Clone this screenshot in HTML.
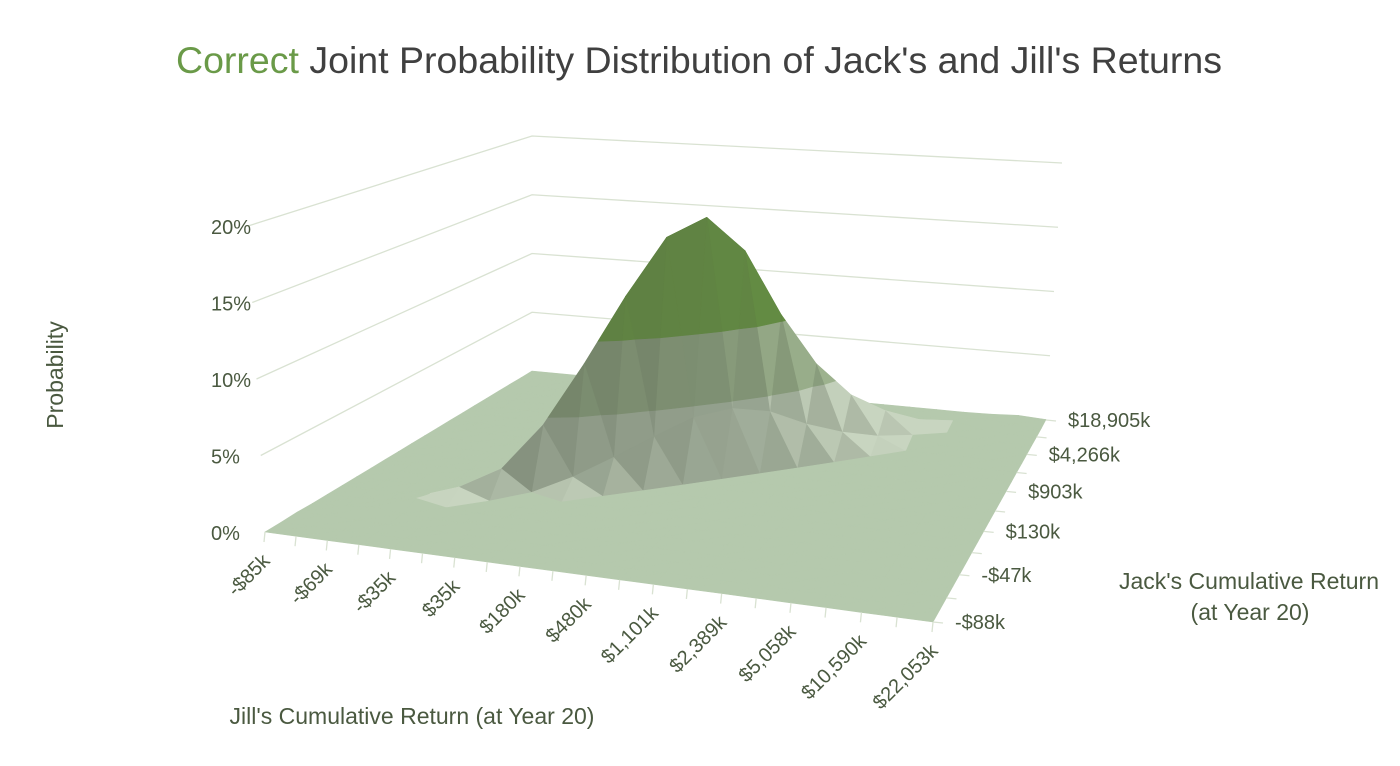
<!DOCTYPE html>
<html><head><meta charset="utf-8"><style>
html,body{margin:0;padding:0;background:#fff;}
svg{display:block;font-family:"Liberation Sans",sans-serif;}
.t{fill:#4a5940;font-size:20px;}
.at{fill:#4a5940;font-size:23px;}
</style></head><body>
<svg id="chart" width="1400" height="766" viewBox="0 0 1400 766">
<text x="699" y="73" text-anchor="middle" font-size="37.5" fill="#404040"><tspan fill="#6a9a48">Correct</tspan> Joint Probability Distribution of Jack's and Jill's Returns</text>
<g id="walls"></g>
<g id="surf"></g>
<g id="axes"></g>
<text class="at" x="0" y="0" transform="translate(63,375) rotate(-90)" text-anchor="middle">Probability</text>
<text class="at" x="1249" y="589" text-anchor="middle">Jack's Cumulative Return</text>
<text class="at" x="1250" y="620" text-anchor="middle">(at Year 20)</text>
<text class="at" x="412" y="724" text-anchor="middle">Jill's Cumulative Return (at Year 20)</text>
</svg>
<script>
const jillLabels=["-$85k","-$69k","-$35k","$35k","$180k","$480k","$1,101k","$2,389k","$5,058k","$10,590k","$22,053k"];
const jackLabels=["-$88k","-$47k","$130k","$903k","$4,266k","$18,905k"];
const zTicks=[0,5,10,15,20];
// probability (%) on the diagonal cell of each Jack row (row j -> Jill column j-1)
const ridgePeak=[0,0,0.1,0.3,0.5,0.9,1.8,4.5,8.5,13,17,18.2,15.5,10.5,6.5,3.8,2.2,1.1,0.6,0.3,0.15];
// probability (%) in the two neighbouring Jill columns of each Jack row
const ridgeSide=[0,0,0.03,0.08,0.12,0.2,0.4,1.1,2.1,3.2,4.2,4.5,3.9,2.6,1.6,0.9,0.55,0.3,0.15,0.08,0.04];
const NX=21, NY=ridgePeak.length;
const grid=[];
for(let j=0;j<NY;j++){
  const row=new Array(NX).fill(0);
  if(j-1>=0&&j-1<NX)row[j-1]=ridgePeak[j];
  if(j-2>=0&&j-2<NX)row[j-2]=ridgeSide[j];
  if(j<NX)row[j]=ridgeSide[j];
  grid.push(row);
}

const NS="http://www.w3.org/2000/svg";
function gv(v){const r=1.22;return v*r/(1+(r-1)*v);}
function gu(u){const r=1.08;return u/(r-(r-1)*u);}
function bil(a,b,c,d,u,v){return (a*(1-u)+b*u)*(1-v)+(c*(1-u)+d*u)*v;}
function proj(u,v,z){
  const U=gu(u),V=gv(v);
  const fx=bil(265,933,532,1046,U,V), fy=bil(532,622,371,420,U,V);
  const s=bil(15.3,16.5,11.75,12.85,U,V), dx=bil(-0.85,1.2,0,0.8,U,V);
  return [fx+dx*z, fy-s*z];
}
function xs(i){return i/(NX-1);}
function ys(j){return j/(NY-1);}
function mk(tag,attrs,parent){const e=document.createElementNS(NS,tag);for(const k in attrs)e.setAttribute(k,attrs[k]);parent.appendChild(e);return e;}

const walls=document.getElementById('walls');
zTicks.forEach(z=>{
  if(z===0)return;
  const a=proj(0,0,z),b=proj(0,1,z),c=proj(1,1,z);
  const p=mk('polyline',{points:a.join(',')+' '+b.join(',')+' '+c.join(','),fill:'none',stroke:'#d9e2d2','stroke-width':1.3},walls);
  
  
});

const surf=document.getElementById('surf');
const tris=[];
for(let j=0;j<NY-1;j++)for(let i=0;i<NX-1;i++){
  const A=[xs(i),ys(j),grid[j][i]],B=[xs(i+1),ys(j),grid[j][i+1]],C=[xs(i+1),ys(j+1),grid[j+1][i+1]],D=[xs(i),ys(j+1),grid[j+1][i]];
  tris.push([A,B,C]);tris.push([A,C,D]);
}
const bands=[[0,5],[5,10],[10,100]];
const lightCols=[[200,213,192],[160,182,145],[101,143,67]];
const darkCols=[[122,134,116],[110,126,100],[88,112,66]];
const bandDark=[0.85,0.85,0.45];
function clip(poly,lo,hi){
  function cut(p,val,keepAbove){
    const out=[];
    for(let k=0;k<p.length;k++){
      const a=p[k],b=p[(k+1)%p.length];
      const ia=keepAbove?a[2]>=val:a[2]<=val, ib=keepAbove?b[2]>=val:b[2]<=val;
      if(ia)out.push(a);
      if(ia!==ib){const t=(val-a[2])/(b[2]-a[2]);out.push([a[0]+(b[0]-a[0])*t,a[1]+(b[1]-a[1])*t,val]);}
    }
    return out;
  }
  let p=cut(poly,lo,true); if(p.length<3)return p;
  return cut(p,hi,false);
}
const items=tris.map(t=>{
  const cu=(t[0][0]+t[1][0]+t[2][0])/3, cv=(t[0][1]+t[1][1]+t[2][1])/3;
  const depth=proj(cu,cv,0)[1];
  const P=t.map(p=>[p[0]*20,p[1]*20,p[2]*0.5]);
  const e1=[P[1][0]-P[0][0],P[1][1]-P[0][1],P[1][2]-P[0][2]], e2=[P[2][0]-P[0][0],P[2][1]-P[0][1],P[2][2]-P[0][2]];
  let n=[e1[1]*e2[2]-e1[2]*e2[1], e1[2]*e2[0]-e1[0]*e2[2], e1[0]*e2[1]-e1[1]*e2[0]];
  const L=Math.hypot(...n)||1; n=n.map(x=>x/L); if(n[2]<0)n=n.map(x=>-x);
  const zmax=Math.max(t[0][2],t[1][2],t[2][2]);
  return {t,depth,n,zmax};
});
items.sort((a,b)=>a.depth-b.depth);
items.forEach(it=>{
  const flat=it.n[2]>0.999||it.zmax<0.7;
  const fr=Math.max(0,Math.min(1,(-it.n[1]-0.35)*2.2));
  bands.forEach((bd,bi)=>{
    const poly=clip(it.t,bd[0],bd[1]);
    if(poly.length<3)return;
    const front=fr*bandDark[bi];
    let col;
    if(flat&&bi===0)col=[181,201,173];
    else{const lc=lightCols[bi],dc=darkCols[bi];col=lc.map((c,k)=>Math.round(c*(1-front)+dc[k]*front));}
    const c='rgb('+col.join(',')+')';
    const pts=poly.map(p=>proj(p[0],p[1],p[2]).map(v=>v.toFixed(1)).join(',')).join(' ');
    const e=mk('polygon',{points:pts,fill:c,stroke:c,'stroke-width':0.6,'stroke-linejoin':'round'},surf);
    
    
  });
});

const axes=document.getElementById('axes');
zTicks.forEach(z=>{
  const p=proj(0,0,z);
  const t=mk('text',{x:211,y:p[1]+8,class:'t'},axes);
  t.textContent=z+'%';
  
  
});
for(let i=0;i<NX;i++){
  const p=proj(xs(i),0,0);
  const l=mk('line',{x1:p[0],y1:p[1],x2:p[0]-1,y2:p[1]+10,stroke:'#d9e2d2','stroke-width':1.3},axes);
  
  
}
jillLabels.forEach((s,k)=>{
  const p=proj(xs(k*2),0,0);
  const t=mk('text',{x:0,y:0,'text-anchor':'end',class:'t',transform:`translate(${p[0]+6},${p[1]+30}) rotate(-45)`},axes);
  t.textContent=s;
  
  
});
for(let j=0;j<NY;j+=2){
  const p=proj(1,ys(j),0);
  const l=mk('line',{x1:p[0],y1:p[1],x2:p[0]+10,y2:p[1]+1,stroke:'#d9e2d2','stroke-width':1.3},axes);
  
  
}
jackLabels.forEach((s,k)=>{
  const p=proj(1,ys(k*4),0);
  const t=mk('text',{x:p[0]+22,y:p[1]+7,class:'t'},axes);
  t.textContent=s;
  
  
});
</script>
</body></html>
